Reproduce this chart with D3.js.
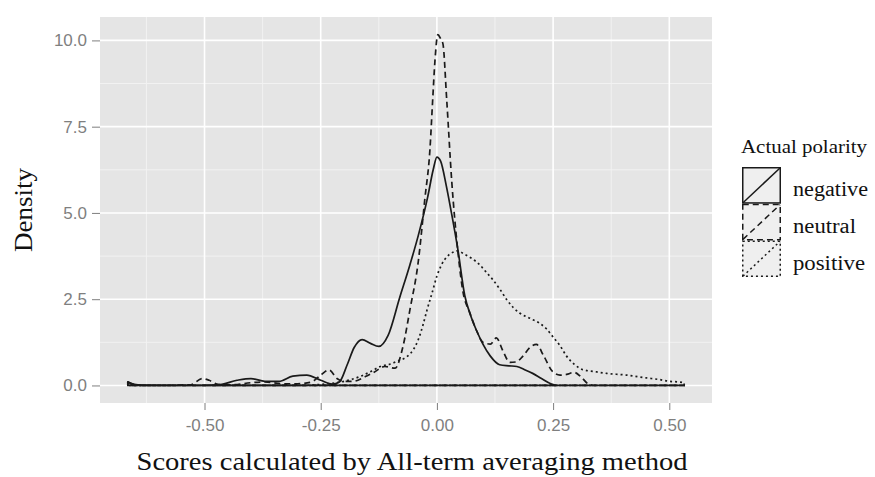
<!DOCTYPE html>
<html>
<head>
<meta charset="utf-8">
<script src="https://cdn.jsdelivr.net/npm/d3@7"></script>
<style>
  html, body { margin: 0; padding: 0; background: #ffffff; }
  svg { display: block; }
</style>
</head>
<body>
<svg id="chart" width="875" height="477"></svg>
<script>
// ---- data ----
const seriesNames = ["negative", "neutral", "positive"];

const negativeX = [-0.665,-0.655,-0.63,-0.55,-0.47,-0.43,-0.40,-0.37,-0.34,-0.31,-0.28,-0.25,-0.225,-0.21,-0.193,-0.178,-0.161,-0.143,-0.125,-0.105,-0.08,-0.058,-0.04,-0.02,-0.008,0.0,0.008,0.02,0.032,0.045,0.06,0.072,0.085,0.099,0.115,0.135,0.155,0.172,0.19,0.206,0.225,0.245,0.26,0.532];
const negativeY = [0.1,0.04,0.01,0.0,0.02,0.15,0.2,0.12,0.12,0.27,0.3,0.15,0.04,0.1,0.6,1.1,1.33,1.22,1.13,1.45,2.55,3.5,4.35,5.45,6.25,6.62,6.5,5.8,4.95,3.95,2.6,2.05,1.6,1.2,0.85,0.6,0.57,0.55,0.45,0.35,0.2,0.05,0.0,0.0];

const neutralX = [-0.665,-0.655,-0.63,-0.53,-0.505,-0.49,-0.47,-0.44,-0.40,-0.37,-0.33,-0.30,-0.27,-0.25,-0.232,-0.215,-0.20,-0.18,-0.155,-0.137,-0.112,-0.09,-0.073,-0.058,-0.04,-0.026,-0.015,-0.009,-0.004,0.002,0.008,0.013,0.021,0.032,0.045,0.055,0.071,0.085,0.099,0.115,0.128,0.142,0.157,0.17,0.185,0.20,0.214,0.23,0.249,0.265,0.279,0.295,0.31,0.325,0.34,0.532];
const neutralY = [0.1,0.05,0.0,0.02,0.2,0.15,0.03,0.02,0.08,0.1,0.05,0.05,0.1,0.3,0.45,0.2,0.12,0.12,0.25,0.37,0.55,0.5,1.13,2.2,3.6,5.4,6.84,8.3,9.45,10.17,10.05,9.9,8.3,5.9,3.9,2.8,2.1,1.6,1.25,1.2,1.38,1.0,0.67,0.68,0.85,1.1,1.19,0.85,0.4,0.3,0.32,0.38,0.25,0.05,0.0,0.0];

const positiveX = [-0.665,-0.655,-0.63,-0.30,-0.25,-0.20,-0.165,-0.14,-0.122,-0.10,-0.086,-0.064,-0.05,-0.04,-0.03,-0.021,-0.01,0.0,0.01,0.021,0.033,0.043,0.06,0.075,0.092,0.105,0.12,0.135,0.15,0.165,0.178,0.20,0.221,0.235,0.249,0.265,0.279,0.295,0.313,0.34,0.365,0.408,0.45,0.479,0.50,0.521,0.532];
const positiveY = [0.1,0.04,0.0,0.0,0.03,0.12,0.26,0.42,0.55,0.62,0.7,0.84,1.05,1.33,1.75,2.2,2.7,3.17,3.5,3.72,3.85,3.9,3.8,3.68,3.5,3.3,3.07,2.8,2.49,2.25,2.1,1.95,1.8,1.65,1.42,1.15,0.85,0.62,0.46,0.4,0.35,0.3,0.22,0.17,0.12,0.1,0.08];

const xTickValues = [-0.50, -0.25, 0.00, 0.25, 0.50];
const yTickValues = [0.0, 2.5, 5.0, 7.5, 10.0];
const xTitle = "Scores calculated by All-term averaging method";
const yTitle = "Density";
const legendTitle = "Actual polarity";

// ---- build series ----
const series = [
  { name: seriesNames[0], pts: negativeX.map((x, i) => ({ x, y: negativeY[i] })), dash: null },
  { name: seriesNames[1], pts: neutralX.map((x, i) => ({ x, y: neutralY[i] })), dash: "6,4" },
  { name: seriesNames[2], pts: positiveX.map((x, i) => ({ x, y: positiveY[i] })), dash: "2,3" }
];

// ---- layout ----
const panel = { left: 100, top: 17, right: 712, bottom: 403 };
const svg = d3.select("#chart");

const allX = series.flatMap(s => s.pts.map(p => p.x));
const allY = series.flatMap(s => s.pts.map(p => p.y));
const xExt = d3.extent(allX), yMax = d3.max(allY);
const xPad = (xExt[1] - xExt[0]) * 0.05, yPad = yMax * 0.05;

const x = d3.scaleLinear().domain([xExt[0] - xPad, xExt[1] + xPad]).range([panel.left, panel.right]);
const y = d3.scaleLinear().domain([0 - yPad, yMax + yPad]).range([panel.bottom, panel.top]);

// panel background
svg.append("rect")
  .attr("x", panel.left).attr("y", panel.top)
  .attr("width", panel.right - panel.left).attr("height", panel.bottom - panel.top)
  .attr("fill", "#e5e5e5");

// minor grid
const mid = a => a.slice(0, -1).map((v, i) => (v + a[i + 1]) / 2);
const xStep = xTickValues[1] - xTickValues[0], yStep = yTickValues[1] - yTickValues[0];
const xMinor = [xTickValues[0] - xStep / 2, ...mid(xTickValues), xTickValues[xTickValues.length - 1] + xStep / 2]
  .filter(v => v >= x.domain()[0] && v <= x.domain()[1]);
const yMinor = [...mid(yTickValues), yTickValues[yTickValues.length - 1] + yStep / 2]
  .filter(v => v >= y.domain()[0] && v <= y.domain()[1]);

const grid = svg.append("g");
grid.selectAll(".vminor").data(xMinor).join("line")
  .attr("x1", d => x(d)).attr("x2", d => x(d)).attr("y1", panel.top).attr("y2", panel.bottom)
  .attr("stroke", "#f2f2f2").attr("stroke-width", 1);
grid.selectAll(".hminor").data(yMinor).join("line")
  .attr("y1", d => y(d)).attr("y2", d => y(d)).attr("x1", panel.left).attr("x2", panel.right)
  .attr("stroke", "#f2f2f2").attr("stroke-width", 1);
grid.selectAll(".vmajor").data(xTickValues).join("line")
  .attr("x1", d => x(d)).attr("x2", d => x(d)).attr("y1", panel.top).attr("y2", panel.bottom)
  .attr("stroke", "#ffffff").attr("stroke-width", 1.6);
grid.selectAll(".hmajor").data(yTickValues).join("line")
  .attr("y1", d => y(d)).attr("y2", d => y(d)).attr("x1", panel.left).attr("x2", panel.right)
  .attr("stroke", "#ffffff").attr("stroke-width", 1.6);

// density polygons
const area = d3.area()
  .x(d => x(d.x)).y0(y(0)).y1(d => y(d.y))
  .curve(d3.curveMonotoneX);

const curves = svg.append("g");
series.forEach(s => {
  curves.append("path")
    .attr("d", area(s.pts))
    .attr("fill", "none")
    .attr("stroke", "#1a1a1a")
    .attr("stroke-width", 1.7)
    .attr("stroke-linejoin", "round")
    .attr("stroke-dasharray", s.dash);
});

// axes
const hyphen = f => d => f(d).replace("\u2212", "-");
const xAxis = d3.axisBottom(x).tickValues(xTickValues).tickFormat(hyphen(d3.format(".2f"))).tickSize(7).tickPadding(6);
const yAxis = d3.axisLeft(y).tickValues(yTickValues).tickFormat(hyphen(d3.format(".1f"))).tickSize(8).tickPadding(5);

const gx = svg.append("g").attr("transform", `translate(0,${panel.bottom})`).call(xAxis);
const gy = svg.append("g").attr("transform", `translate(${panel.left},0)`).call(yAxis);
[gx, gy].forEach(g => {
  g.select(".domain").remove();
  g.selectAll(".tick line").attr("stroke", "#7f7f7f").attr("stroke-width", 1);
  g.selectAll(".tick text")
    .attr("fill", "#7f7f7f")
    .style("font-family", "'Liberation Sans', Arial, sans-serif")
    .style("font-size", "17px");
});
gx.selectAll(".tick text").attr("dy", "0.9em");

// axis titles
svg.append("text")
  .attr("x", 412).attr("y", 470)
  .attr("text-anchor", "middle")
  .attr("textLength", 551).attr("lengthAdjust", "spacingAndGlyphs")
  .style("font-family", "'Liberation Serif', 'Times New Roman', serif")
  .style("font-size", "26px").attr("fill", "#111")
  .text(xTitle);

svg.append("text")
  .attr("transform", `translate(32,${(panel.top + panel.bottom) / 2}) rotate(-90)`)
  .attr("text-anchor", "middle")
  .attr("textLength", 84).attr("lengthAdjust", "spacingAndGlyphs")
  .style("font-family", "'Liberation Serif', 'Times New Roman', serif")
  .style("font-size", "26px").attr("fill", "#111")
  .text(yTitle);

// legend
const lg = svg.append("g");
lg.append("text")
  .attr("x", 741).attr("y", 153)
  .attr("textLength", 126).attr("lengthAdjust", "spacingAndGlyphs")
  .style("font-family", "'Liberation Serif', 'Times New Roman', serif")
  .style("font-size", "18px").attr("fill", "#111")
  .text(legendTitle);

const keyX = 742, keyW = 39, keyTop = 167, keyH = 36.7;
const labelLens = [75, 63, 72];
series.forEach((s, i) => {
  const ky = keyTop + i * keyH;
  lg.append("rect")
    .attr("x", keyX).attr("y", ky).attr("width", keyW).attr("height", keyH)
    .attr("fill", "#efefef").attr("stroke", "none");
});
series.forEach((s, i) => {
  const ky = keyTop + i * keyH;
  lg.append("rect")
    .attr("x", keyX + 0.75).attr("y", ky + 0.75).attr("width", keyW - 1.5).attr("height", keyH - 1.5)
    .attr("fill", "none").attr("stroke", "#1a1a1a").attr("stroke-width", 1.5)
    .attr("stroke-dasharray", s.dash);
  lg.append("line")
    .attr("x1", keyX + 1).attr("y1", ky + keyH - 1).attr("x2", keyX + keyW - 1).attr("y2", ky + 1)
    .attr("stroke", "#1a1a1a").attr("stroke-width", 1.5)
    .attr("stroke-dasharray", s.dash);
  lg.append("text")
    .attr("x", 793).attr("y", ky + keyH / 2 + 11)
    .attr("textLength", labelLens[i]).attr("lengthAdjust", "spacingAndGlyphs")
    .style("font-family", "'Liberation Serif', 'Times New Roman', serif")
    .style("font-size", "20px").attr("fill", "#111")
    .text(s.name);
});
</script>
</body>
</html>
